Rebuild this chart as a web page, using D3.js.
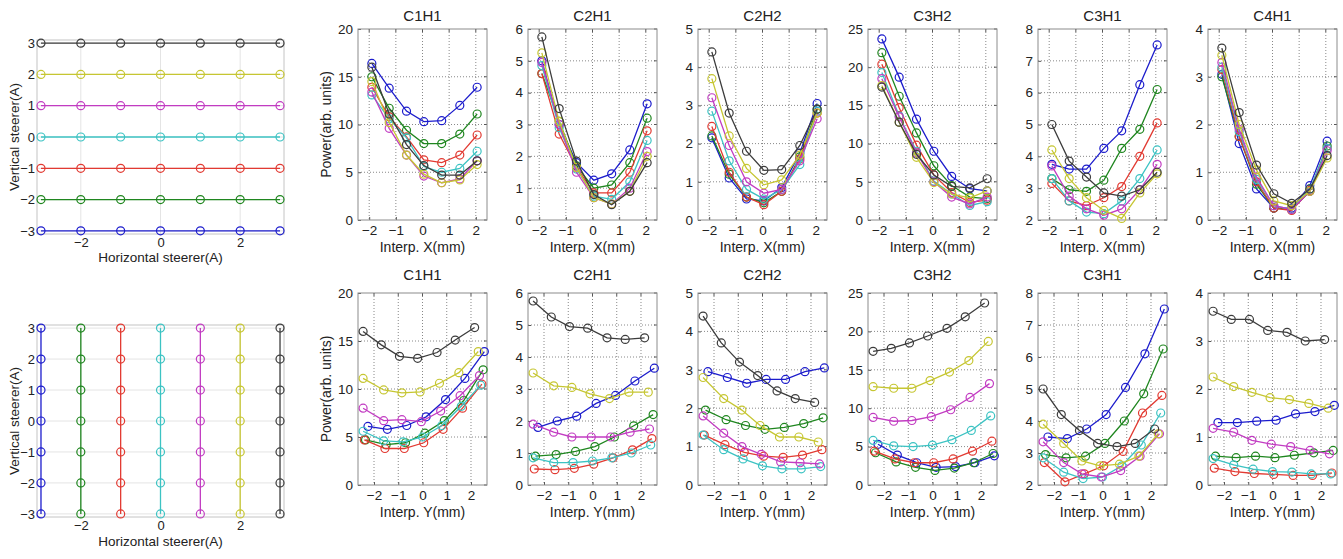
<!DOCTYPE html>
<html>
<head>
<meta charset="utf-8">
<script src="https://cdn.jsdelivr.net/npm/d3@7"></script>
<style>
  body { margin: 0; background: #fff; }
  text { font-family: "Liberation Sans", Arial, sans-serif; fill: #222; }
</style>
</head>
<body>
<svg id="fig" width="1343" height="559"></svg>
<script>
// ---- data ----
const seriesColors = ["#1c1ccc", "#1f861f", "#e23a32", "#3cc3c3", "#c23cc2", "#c6c632", "#3c3c3c"];
const steerer = [-3, -2, -1, 0, 1, 2, 3];
const steererTicksX = [-2, 0, 2];
const steererTicksY = [-3, -2, -1, 0, 1, 2, 3];

const panelNames = ["C1H1", "C2H1", "C2H2", "C3H2", "C3H1", "C4H1"];
const yTicks = [
  [0, 5, 10, 15, 20],
  [0, 1, 2, 3, 4, 5, 6],
  [0, 1, 2, 3, 4, 5],
  [0, 5, 10, 15, 20, 25],
  [2, 3, 4, 5, 6, 7, 8],
  [0, 1, 2, 3, 4]
];
const interpTicks = [-2, -1, 0, 1, 2];

// horizontal scan positions (top row), same for every series
const interpX = [-1.9, -1.25, -0.6, 0.05, 0.72, 1.4, 2.05];
// vertical scan positions (bottom row), one array per series (blue..black)
const interpY = [
  [-2.25, -1.45, -0.65, 0.15, 0.95, 1.75, 2.55],
  [-2.35, -1.5, -0.7, 0.1, 0.9, 1.7, 2.5],
  [-2.4, -1.55, -0.75, 0.05, 0.85, 1.65, 2.45],
  [-2.45, -1.6, -0.8, 0.0, 0.8, 1.6, 2.4],
  [-2.45, -1.6, -0.85, -0.05, 0.75, 1.55, 2.35],
  [-2.45, -1.6, -0.85, -0.1, 0.7, 1.5, 2.3],
  [-2.45, -1.7, -0.95, -0.2, 0.6, 1.35, 2.15]
];

// power vs interp X, series order: blue, green, red, cyan, magenta, yellow, black
const powerX_C1H1 = [
  [16.4, 13.8, 11.4, 10.3, 10.4, 12.0, 13.9],
  [15.0, 11.7, 9.4, 8.0, 8.0, 9.0, 11.1],
  [13.9, 10.8, 8.7, 6.3, 6.0, 6.8, 8.9],
  [13.1, 10.6, 8.6, 5.6, 5.0, 5.4, 7.2],
  [13.4, 9.6, 6.8, 4.6, 3.9, 4.3, 6.2],
  [14.5, 10.2, 6.8, 4.8, 3.9, 4.2, 5.8],
  [16.0, 11.1, 7.9, 5.7, 4.7, 4.7, 6.2]
];
const powerX_C2H1 = [
  [5.0, 3.0, 1.8, 1.25, 1.45, 2.2, 3.65],
  [4.6, 3.1, 1.7, 1.0, 1.1, 1.8, 3.2],
  [4.6, 2.7, 1.65, 0.85, 0.85, 1.5, 2.8],
  [4.85, 2.9, 1.6, 0.75, 0.65, 1.2, 2.5],
  [4.95, 3.0, 1.5, 0.7, 0.5, 1.0, 2.15],
  [5.25, 3.1, 1.65, 0.7, 0.5, 0.9, 2.0],
  [5.75, 3.5, 1.85, 0.8, 0.48, 0.9, 1.8]
];
const powerX_C2H2 = [
  [2.15, 1.1, 0.55, 0.5, 0.85, 1.75, 3.05],
  [2.2, 1.2, 0.6, 0.45, 0.75, 1.65, 2.9],
  [2.45, 1.25, 0.6, 0.4, 0.75, 1.6, 2.8],
  [2.85, 1.55, 0.8, 0.55, 0.8, 1.45, 2.85],
  [3.2, 1.95, 1.0, 0.7, 0.8, 1.55, 2.65],
  [3.7, 2.2, 1.35, 0.92, 1.05, 1.7, 2.8],
  [4.4, 2.8, 1.8, 1.3, 1.32, 1.95, 2.9]
];
const powerX_C3H2 = [
  [23.7, 18.7, 13.2, 9.0, 5.7, 4.1, 3.8],
  [21.9, 16.2, 11.4, 7.1, 4.5, 3.0, 2.8],
  [20.4, 14.7, 9.8, 5.9, 3.6, 2.3, 2.6],
  [19.3, 13.6, 9.0, 5.1, 3.4, 1.9, 2.4],
  [18.5, 13.5, 8.8, 5.0, 3.0, 2.1, 3.0],
  [17.6, 12.8, 8.2, 4.9, 3.4, 2.9, 3.8],
  [17.4, 12.8, 8.6, 5.9, 4.4, 4.2, 5.4]
];
const powerX_C3H1 = [
  [3.75, 3.6, 3.6, 4.25, 4.8, 6.25, 7.5],
  [3.3, 2.95, 2.9, 3.25, 4.25, 4.85, 6.1],
  [3.15, 2.6, 2.45, 2.7, 3.05, 4.0, 5.05],
  [3.3, 2.6, 2.25, 2.2, 2.6, 3.3, 4.2],
  [3.7, 2.75, 2.35, 2.15, 2.35, 2.95, 3.75],
  [4.2, 3.3, 2.7, 2.3, 2.05, 2.85, 3.45],
  [5.0, 3.85, 3.35, 2.85, 2.75, 2.95, 3.5]
];
const powerX_C4H1 = [
  [3.05, 1.6, 0.65, 0.25, 0.25, 0.72, 1.65],
  [3.0, 1.75, 0.75, 0.25, 0.22, 0.6, 1.55],
  [3.15, 1.75, 0.8, 0.25, 0.2, 0.62, 1.5],
  [3.2, 1.85, 0.85, 0.3, 0.22, 0.65, 1.5],
  [3.3, 1.9, 0.9, 0.3, 0.22, 0.6, 1.45],
  [3.45, 2.0, 1.05, 0.4, 0.3, 0.6, 1.3],
  [3.6, 2.25, 1.15, 0.55, 0.35, 0.65, 1.35]
];

// power vs interp Y
const powerY_C1H1 = [
  [6.1, 5.8, 6.2, 7.1, 8.9, 11.1, 13.9],
  [4.7, 4.2, 4.4, 5.4, 6.7, 8.8, 12.0],
  [4.7, 3.8, 3.8, 4.4, 5.8, 8.0, 10.5],
  [5.6, 4.6, 4.5, 5.0, 6.2, 8.2, 10.4],
  [8.0, 6.7, 6.8, 6.6, 7.7, 9.3, 11.4],
  [11.1, 9.9, 9.6, 9.7, 10.6, 11.7, 13.9],
  [16.0, 14.6, 13.4, 13.2, 13.8, 15.1, 16.4]
];
const powerY_C2H1 = [
  [1.8, 2.0, 2.15, 2.55, 2.8, 3.25, 3.65],
  [0.9, 0.95, 1.05, 1.2, 1.5, 1.85, 2.2],
  [0.5, 0.48, 0.52, 0.65, 0.85, 1.1, 1.45],
  [0.85, 0.7, 0.7, 0.75, 0.85, 1.0, 1.25],
  [1.9, 1.65, 1.5, 1.5, 1.5, 1.65, 1.75],
  [3.5, 3.1, 3.05, 2.85, 2.7, 2.9, 2.9],
  [5.75, 5.25, 4.95, 4.9, 4.6, 4.55, 4.6]
];
const powerY_C2H2 = [
  [2.95, 2.8, 2.65, 2.75, 2.75, 2.95, 3.05],
  [1.95, 1.7, 1.55, 1.45, 1.5, 1.6, 1.75],
  [1.3, 1.05, 0.85, 0.75, 0.72, 0.78, 0.92],
  [1.3, 0.92, 0.68, 0.5, 0.42, 0.42, 0.48],
  [1.8, 1.35, 1.0, 0.8, 0.6, 0.58, 0.55],
  [2.8, 2.25, 1.95, 1.55, 1.25, 1.25, 1.12],
  [4.4, 3.7, 3.2, 2.85, 2.45, 2.25, 2.15]
];
const powerY_C3H2 = [
  [5.3, 3.9, 2.9, 2.3, 2.4, 2.9, 3.8],
  [4.2, 3.0, 2.3, 1.9, 2.2, 2.9, 4.1],
  [4.4, 3.4, 2.9, 2.9, 3.4, 4.4, 5.7],
  [5.8, 5.1, 5.0, 5.2, 5.9, 7.1, 9.0],
  [8.8, 8.3, 8.4, 8.9, 9.8, 11.4, 13.2],
  [12.8, 12.6, 12.6, 13.6, 14.7, 16.2, 18.7],
  [17.4, 17.8, 18.5, 19.4, 20.4, 21.9, 23.7]
];
const powerY_C3H1 = [
  [3.5, 3.45, 3.75, 4.2, 5.05, 6.1, 7.5],
  [2.95, 2.85, 2.9, 3.3, 4.0, 4.85, 6.25],
  [2.7, 2.1, 2.35, 2.6, 3.05, 4.25, 4.8],
  [2.85, 2.4, 2.2, 2.25, 2.6, 3.25, 4.25],
  [3.35, 2.7, 2.35, 2.25, 2.45, 2.9, 3.6],
  [3.9, 3.3, 2.75, 2.6, 2.65, 2.9, 3.6],
  [5.0, 4.2, 3.7, 3.3, 3.2, 3.3, 3.75]
];
const powerY_C4H1 = [
  [1.3, 1.3, 1.33, 1.35, 1.48, 1.53, 1.66],
  [0.6, 0.57, 0.6, 0.57, 0.62, 0.67, 0.72],
  [0.35, 0.28, 0.24, 0.22, 0.2, 0.2, 0.25],
  [0.55, 0.42, 0.33, 0.28, 0.27, 0.23, 0.23],
  [1.18, 1.1, 0.93, 0.85, 0.8, 0.72, 0.65],
  [2.25, 2.05, 1.93, 1.82, 1.78, 1.7, 1.6],
  [3.62, 3.45, 3.45, 3.22, 3.18, 3.0, 3.03]
];

const powerXAll = [powerX_C1H1, powerX_C2H1, powerX_C2H2, powerX_C3H2, powerX_C3H1, powerX_C4H1];
const powerYAll = [powerY_C1H1, powerY_C2H1, powerY_C2H2, powerY_C3H2, powerY_C3H1, powerY_C4H1];

// ---- drawing ----
const svg = d3.select("#fig");

function drawPanel(cfg) {
  const g = svg.append("g").attr("transform", "translate(" + cfg.left + "," + cfg.top + ")");
  const x = d3.scaleLinear().domain(cfg.xDom).range([0, cfg.w]);
  const y = d3.scaleLinear().domain(cfg.yDom).range([cfg.h, 0]);

  // grid
  const gridStyle = cfg.light
    ? { stroke: "#e4e4e4", dash: null, width: 1 }
    : { stroke: "#6a6a6a", dash: "1,2", width: 0.8 };
  g.append("g").selectAll("line").data(cfg.xTicks).join("line")
    .attr("x1", d => x(d)).attr("x2", d => x(d))
    .attr("y1", 0).attr("y2", cfg.h)
    .attr("stroke", gridStyle.stroke).attr("stroke-width", gridStyle.width)
    .attr("stroke-dasharray", gridStyle.dash);
  g.append("g").selectAll("line").data(cfg.yTicks.filter(d => d > cfg.yDom[0] && d < cfg.yDom[1])).join("line")
    .attr("y1", d => y(d)).attr("y2", d => y(d))
    .attr("x1", 0).attr("x2", cfg.w)
    .attr("stroke", gridStyle.stroke).attr("stroke-width", gridStyle.width)
    .attr("stroke-dasharray", gridStyle.dash);

  // axes (ticks inward)
  const fs = cfg.fontSize;
  const xa = g.append("g").attr("transform", "translate(0," + cfg.h + ")")
    .call(d3.axisBottom(x).tickValues(cfg.xTicks).tickSizeInner(cfg.light ? 0 : -3).tickSizeOuter(0)
      .tickPadding(cfg.light ? 4 : 5).tickFormat(d3.format("d")));
  const ya = g.append("g")
    .call(d3.axisLeft(y).tickValues(cfg.yTicks).tickSizeInner(cfg.light ? 0 : -3).tickSizeOuter(0)
      .tickPadding(cfg.light ? 2 : 5).tickFormat(d3.format("d")));
  [xa, ya].forEach(a => {
    a.select(".domain").remove();
    a.selectAll("line").attr("stroke", "#555");
    a.selectAll("text").style("font-size", fs + "px").attr("fill", "#222")
      .style("font-family", "'Liberation Sans', Arial, sans-serif");
  });
  if (!cfg.light) {
    // mirrored ticks on top and right
    g.append("g").selectAll("line").data(cfg.xTicks).join("line")
      .attr("x1", d => x(d)).attr("x2", d => x(d)).attr("y1", 0).attr("y2", 3).attr("stroke", "#555");
    g.append("g").selectAll("line").data(cfg.yTicks).join("line")
      .attr("y1", d => y(d)).attr("y2", d => y(d)).attr("x1", cfg.w).attr("x2", cfg.w - 3).attr("stroke", "#555");
  }

  // box
  g.append("rect").attr("width", cfg.w).attr("height", cfg.h)
    .attr("fill", "none").attr("stroke", cfg.light ? "#c4c4c4" : "#8c8c8c").attr("stroke-width", 1);

  // series
  const line = d3.line().x(d => x(d[0])).y(d => y(d[1]));
  cfg.series.forEach(s => {
    const pts = s.xs.map((v, i) => [v, s.ys[i]]);
    g.append("path").datum(pts).attr("d", line)
      .attr("fill", "none").attr("stroke", s.color).attr("stroke-width", 1.3);
    g.append("g").selectAll("circle").data(pts).join("circle")
      .attr("cx", d => x(d[0])).attr("cy", d => y(d[1])).attr("r", 4)
      .attr("fill", "none").attr("stroke", s.color).attr("stroke-width", 1.2);
  });

  // labels
  if (cfg.title) {
    g.append("text").attr("x", cfg.w / 2).attr("y", -cfg.titleOff).attr("text-anchor", "middle")
      .style("font-size", "15px").text(cfg.title);
  }
  g.append("text").attr("x", cfg.w / 2).attr("y", cfg.h + cfg.xlabelOff).attr("text-anchor", "middle")
    .style("font-size", cfg.labelSize + "px").text(cfg.xlabel);
  if (cfg.ylabel) {
    g.append("text").attr("transform", "translate(" + (-cfg.ylabelOff) + "," + (cfg.h / 2) + ") rotate(-90)")
      .attr("text-anchor", "middle").style("font-size", cfg.labelSize + "px").text(cfg.ylabel);
  }
}

// left: steerer grids
const leftCfg = { left: 37, w: 247, xDom: [-3.1, 3.1], yDom: [-3.1, 3.1],
  xTicks: steererTicksX, yTicks: steererTicksY, light: true, fontSize: 13, labelSize: 13.5,
  xlabel: "Horizontal steerer(A)", ylabel: "Vertical steerer(A)", ylabelOff: 18 };

drawPanel(Object.assign({}, leftCfg, { top: 40, h: 194, xlabelOff: 28,
  series: steerer.map((v, i) => ({ xs: steerer, ys: steerer.map(() => v), color: seriesColors[i] })) }));
drawPanel(Object.assign({}, leftCfg, { top: 325, h: 192, xlabelOff: 29,
  series: steerer.map((v, i) => ({ xs: steerer.map(() => v), ys: steerer, color: seriesColors[i] })) }));

// power panels
panelNames.forEach((name, p) => {
  const yt = yTicks[p];
  const base = { left: 358 + 170 * p, w: 129, yDom: [yt[0], yt[yt.length - 1]],
    xTicks: interpTicks, yTicks: yt, light: false, fontSize: 13.5, labelSize: 14, title: name,
    xlabelOff: 32, ylabel: p === 0 ? "Power(arb. units)" : null, ylabelOff: 27 };
  drawPanel(Object.assign({}, base, { top: 29, h: 191, titleOff: 8, xDom: [-2.42, 2.42], xlabel: "Interp. X(mm)",
    series: powerXAll[p].map((ys, i) => ({ xs: interpX, ys: ys, color: seriesColors[i] })) }));
  drawPanel(Object.assign({}, base, { top: 293, h: 192, titleOff: 13, xDom: [-2.66, 2.66], xlabel: "Interp. Y(mm)",
    series: powerYAll[p].map((ys, i) => ({ xs: interpY[i], ys: ys, color: seriesColors[i] })) }));
});
</script>
</body>
</html>
